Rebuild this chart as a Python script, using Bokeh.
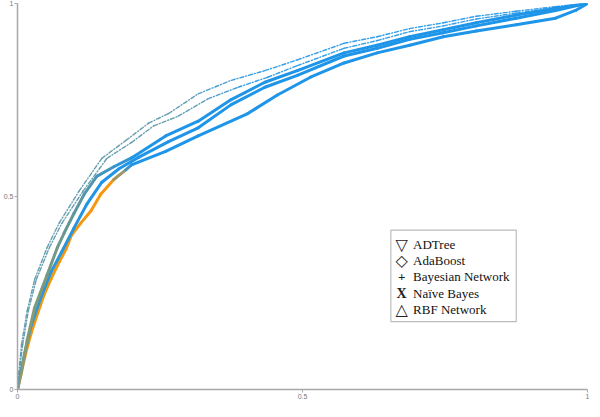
from bokeh.plotting import figure
from bokeh.models import FixedTicker, Label, BoxAnnotation
from bokeh.embed import file_html
from bokeh.resources import INLINE

# ---------------- data ----------------
tick_values = [0, 0.5, 1]
tick_labels = ["0", "0.5", "1"]

bayes_net_fpr = [0, 0.002, 0.007, 0.017, 0.030, 0.052, 0.073, 0.108, 0.148, 0.190, 0.230, 0.265,
                 0.317, 0.375, 0.434, 0.491, 0.573, 0.631, 0.688, 0.747, 0.805, 0.875, 0.944, 0.997, 1.0]
bayes_net_tpr = [0, 0.040, 0.116, 0.204, 0.285, 0.368, 0.431, 0.514, 0.599, 0.645, 0.690, 0.715,
                 0.766, 0.801, 0.826, 0.854, 0.897, 0.914, 0.935, 0.950, 0.967, 0.980, 0.992, 1.0, 1.0]

naive_bayes_fpr = [0, 0.003, 0.009, 0.019, 0.033, 0.056, 0.078, 0.115, 0.157, 0.200, 0.239, 0.282,
                   0.334, 0.387, 0.439, 0.491, 0.573, 0.631, 0.688, 0.747, 0.805, 0.875, 0.944, 0.997, 1.0]
naive_bayes_tpr = [0, 0.040, 0.116, 0.204, 0.285, 0.368, 0.431, 0.514, 0.599, 0.640, 0.683, 0.708,
                   0.753, 0.783, 0.809, 0.839, 0.884, 0.904, 0.927, 0.942, 0.960, 0.975, 0.990, 1.0, 1.0]

adtree_fpr = [0, 0.007, 0.017, 0.030, 0.052, 0.070, 0.082, 0.099, 0.117, 0.139, 0.169, 0.200, 0.260,
              0.317, 0.375, 0.434, 0.491, 0.573, 0.631, 0.688, 0.747, 0.805, 0.875, 0.944, 0.997, 1.0]
adtree_tpr = [0, 0.045, 0.128, 0.212, 0.297, 0.368, 0.406, 0.456, 0.506, 0.552, 0.577, 0.600, 0.657,
              0.695, 0.751, 0.796, 0.826, 0.872, 0.892, 0.914, 0.932, 0.950, 0.970, 0.987, 1.0, 1.0]

adaboost_fpr = [0, 0.005, 0.014, 0.024, 0.042, 0.059, 0.077, 0.099, 0.122, 0.148, 0.178, 0.213, 0.265,
                0.317, 0.375, 0.434, 0.491, 0.573, 0.631, 0.688, 0.747, 0.805, 0.875, 0.944, 0.997, 1.0]
adaboost_tpr = [0, 0.040, 0.103, 0.166, 0.242, 0.305, 0.355, 0.418, 0.481, 0.537, 0.572, 0.602, 0.642,
                0.678, 0.738, 0.783, 0.814, 0.864, 0.884, 0.907, 0.924, 0.942, 0.962, 0.982, 1.0, 1.0]

rbf_fpr = [0, 0.009, 0.016, 0.024, 0.035, 0.047, 0.059, 0.073, 0.085, 0.094, 0.111, 0.129, 0.146, 0.169,
           0.190, 0.200, 0.260, 0.317, 0.404, 0.456, 0.514, 0.573, 0.631, 0.688, 0.747, 0.805, 0.875,
           0.944, 0.979, 1.0]
rbf_tpr = [0, 0.060, 0.103, 0.146, 0.196, 0.247, 0.287, 0.330, 0.363, 0.398, 0.431, 0.463, 0.506, 0.544,
           0.569, 0.582, 0.617, 0.657, 0.715, 0.763, 0.809, 0.846, 0.872, 0.892, 0.914, 0.929, 0.945,
           0.962, 0.982, 1.0]

legend_names = ["ADTree", "AdaBoost", "Bayesian Network", "Naïve Bayes", "RBF Network"]
legend_symbols = ["\u25BD", "\u25C7", "+", "X", "\u25B3"]

# ---------------- colour helpers ----------------
def _rgb(h):
    h = h.lstrip("#")
    return tuple(int(h[i:i + 2], 16) for i in (0, 2, 4))


def _mix(c1, c2, t):
    a, b = _rgb(c1), _rgb(c2)
    return "#%02x%02x%02x" % tuple(int(round(a[k] + (b[k] - a[k]) * t)) for k in range(3))


def _grad(stops, x):
    if x <= stops[0][0]:
        return stops[0][1]
    for (x0, c0), (x1, c1) in zip(stops[:-1], stops[1:]):
        if x0 <= x <= x1:
            t = 0 if x1 == x0 else (x - x0) / (x1 - x0)
            return _mix(c0, c1, t)
    return stops[-1][1]


BLUE = "#1e95e8"
TEAL = "#5795a8"
ORANGE = "#f5980f"
OLIVE = "#8e9a6c"


def segments(xs, ys, stops):
    sx, sy, cols = [], [], []
    for i in range(len(xs) - 1):
        sx.append([xs[i], xs[i + 1]])
        sy.append([ys[i], ys[i + 1]])
        cols.append(_grad(stops, (xs[i] + xs[i + 1]) / 2))
    return sx, sy, cols


# ---------------- figure ----------------
p = figure(width=590, height=401, x_range=(0, 1), y_range=(0, 1),
           output_backend="svg", toolbar_location=None,
           min_border_left=0, min_border_right=3, min_border_top=3, min_border_bottom=0)
p.outline_line_color = None
p.grid.visible = False
p.background_fill_color = "white"

for ax in (p.xaxis, p.yaxis):
    ax.ticker = FixedTicker(ticks=tick_values)
    ax.major_label_overrides = {v: l for v, l in zip(tick_values, tick_labels)}
    ax.axis_line_color = "#a8a8a8"
    ax.axis_line_width = 1.5
    ax.major_tick_line_color = "#a8a8a8"
    ax.major_tick_out = 3
    ax.major_tick_in = 0
    ax.minor_tick_line_color = None
    ax.major_label_text_font_size = "7px"
    ax.major_label_text_color = "#777777"
    ax.major_label_standoff = 1
    ax.axis_label = None

curves = [
    (rbf_fpr, rbf_tpr, [(0, ORANGE), (0.165, ORANGE), (0.2, BLUE), (1, BLUE)], 3, "solid", 1.0),
    (adaboost_fpr, adaboost_tpr, [(0, "#3596cc"), (0.15, BLUE), (1, BLUE)], 3, "solid", 1.0),
    (adtree_fpr, adtree_tpr, [(0, OLIVE), (0.05, "#7a9a80"), (0.12, TEAL), (0.22, BLUE), (1, BLUE)], 3,
     "solid", 1.0),
    (naive_bayes_fpr, naive_bayes_tpr, [(0, TEAL), (0.28, TEAL), (0.42, BLUE), (1, BLUE)], 1.4,
     "4 2 1 2", 0.9),
    (bayes_net_fpr, bayes_net_tpr, [(0, TEAL), (0.28, TEAL), (0.42, BLUE), (1, BLUE)], 1.4,
     "4 2 1 2", 0.9),
]

for xs, ys, stops, lw, dash, alpha in curves:
    sx, sy, cols = segments(xs, ys, stops)
    p.multi_line(xs=sx, ys=sy, line_color=cols, line_width=lw, line_dash=dash, line_alpha=alpha,
                 line_cap="round", line_join="round")

# ---------------- legend (drawn as text) ----------------
box = BoxAnnotation(left=0.655, right=0.875, bottom=0.176, top=0.413,
                    fill_color="white", fill_alpha=1.0, line_color="#222222", line_width=1.2)
p.add_layout(box)

row_top = 0.376
row_step = 0.042
sym_fonts = ["DejaVu Sans", "DejaVu Sans", "Liberation Serif", "Liberation Serif", "DejaVu Sans"]
sym_sizes = ["16px", "16px", "13px", "14px", "16px"]
sym_styles = ["normal", "normal", "bold", "bold", "normal"]
for i, (name, sym) in enumerate(zip(legend_names, legend_symbols)):
    yy = row_top - i * row_step
    p.add_layout(Label(x=0.674, y=yy, text=sym, text_align="center", text_baseline="middle",
                       text_font=sym_fonts[i], text_font_size=sym_sizes[i],
                       text_font_style=sym_styles[i], text_color="#222222"))
    p.add_layout(Label(x=0.694, y=yy, text=name, text_align="left", text_baseline="middle",
                       text_font="Liberation Serif", text_font_size="13px", text_color="#111111"))

open("out.html", "w").write(file_html(p, INLINE))
